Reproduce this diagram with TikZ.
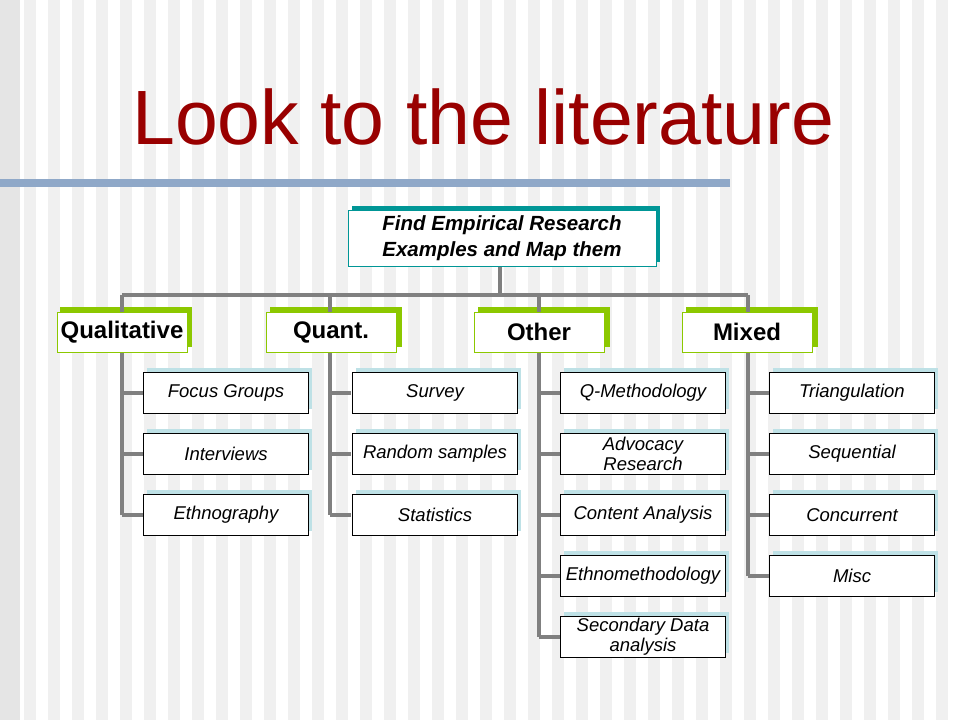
\documentclass[tikz,border=0pt]{standalone}
\usepackage{fontspec}
\setmainfont{Liberation Sans}
\usetikzlibrary{positioning}
\definecolor{titlered}{RGB}{153,0,0}
\definecolor{barblue}{RGB}{143,168,200}
\definecolor{linegray}{RGB}{128,128,128}
\definecolor{tealshadow}{RGB}{0,150,150}
\definecolor{greenshadow}{RGB}{140,200,0}
\definecolor{blueshadow}{RGB}{190,225,230}
\definecolor{stripe}{RGB}{240,240,240}
\tikzset{
  rootbox/.style={draw=tealshadow, fill=white, minimum width=308, minimum height=56, align=center, font=\bfseries\itshape\fontsize{20.5}{26}\selectfont},
  catbox/.style={draw=greenshadow, fill=white, minimum width=130, minimum height=40, inner sep=1pt, font=\bfseries\fontsize{24}{28}\selectfont},
  leafbox/.style={draw=black, fill=white, minimum width=165, minimum height=41, inner sep=1pt, align=center, font=\itshape\fontsize{18.5}{21}\selectfont},
  link/.style={draw=linegray, line width=3.5pt},
}
\begin{document}
\begin{tikzpicture}[x=1pt,y=-1pt]
    %background
    \fill[white] (0,0) rectangle (960,720);
    \foreach \s in {0,24,...,948}
      \fill[stripe] (\s,0) rectangle ++(12,720);
    \fill[black!10] (0,0) rectangle (20,720);
    \useasboundingbox (0,0) rectangle (960,720);

    %title
    \node[anchor=west, inner sep=0pt, text=titlered, font=\fontsize{77}{90}\selectfont] (title) at (132,117) {Look to the literature};
    \fill[barblue] (0,179) rectangle (730,187);

    %shadows
    \fill[tealshadow] (352,206) rectangle (660,262);
    \foreach \x in {60,270,478,686}
      \fill[greenshadow] (\x,307) rectangle ++(132,40);
    \foreach \x/\n in {147/3,356/3,564/5,773/4}
      \foreach \i in {1,...,\n}
        \fill[blueshadow] (\x,{368+61*(\i-1)}) rectangle ++(165,41);

    %connectors
    \coordinate (bus) at (500,295);
    \draw[link] (500,266) -- (bus);
    \draw[link] (122,295) -- (748,295);
    \foreach \x in {122,330,539,748}
      \draw[link] (\x,295) -- (\x,312);
    \draw[link] (122,352) -- (122,515);
    \draw[link] (330,352) -- (330,515);
    \draw[link] (539,352) -- (539,637);
    \draw[link] (748,352) -- (748,576);
    \foreach \x/\n in {122/3,330/3,539/5,748/4}
      \foreach \i in {1,...,\n}
        \draw[link] (\x,{393+61*(\i-1)}) -- ++(21,0);

    %nodes
    \node[rootbox] (root) at (502,238) {Find Empirical Research\\Examples and Map them};
    \node[catbox] (qual) at (122,332) {Qualitative};
    \node[catbox] (quant) at (331,332) {Quant.};
    \node[catbox] (other) at (539,332) {Other};
    \node[catbox] (mixed) at (747,332) {Mixed};

    \node[leafbox] (focus) at (226,393) {Focus Groups};
    \node[leafbox] (interv) at (226,454) {Interviews};
    \node[leafbox] (ethno) at (226,515) {Ethnography};

    \node[leafbox] (survey) at (435,393) {Survey};
    \node[leafbox] (random) at (435,454) {Random samples};
    \node[leafbox] (stats) at (435,515) {Statistics};

    \node[leafbox] (qmeth) at (643,393) {Q-Methodology};
    \node[leafbox, font=\itshape\fontsize{18.5}{20}\selectfont] (advoc) at (643,454) {Advocacy\\Research};
    \node[leafbox] (content) at (643,515) {Content Analysis};
    \node[leafbox] (ethnometh) at (643,576) {Ethnomethodology};
    \node[leafbox, font=\itshape\fontsize{18.5}{20}\selectfont] (second) at (643,637) {Secondary Data\\analysis};

    \node[leafbox] (triang) at (852,393) {Triangulation};
    \node[leafbox] (sequ) at (852,454) {Sequential};
    \node[leafbox] (concur) at (852,515) {Concurrent};
    \node[leafbox] (misc) at (852,576) {Misc};
\end{tikzpicture}
\end{document}
